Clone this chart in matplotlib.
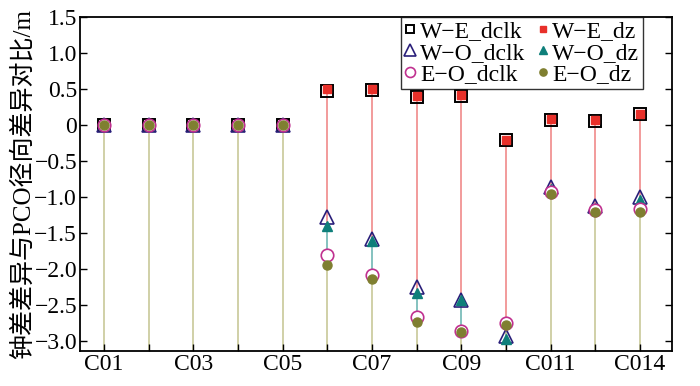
import numpy as np
import matplotlib
matplotlib.use("Agg")
import matplotlib.pyplot as plt

plt.rcParams['font.family'] = ['Liberation Serif', 'Noto Sans CJK SC']

# satellites (13 positions, labels every other)
pos = np.arange(1, 14)
tick_pos = [1, 3, 5, 7, 9, 11, 13]
tick_labels = ["C01", "C03", "C05", "C07", "C09", "C011", "C014"]

we_dclk = [0, 0, 0, 0, 0, 0.48, 0.49, 0.39, 0.41, -0.21, 0.07, 0.06, 0.15]
we_dz   = [0, 0, 0, 0, 0, 0.50, 0.50, 0.40, 0.42, -0.20, 0.08, 0.07, 0.16]
wo_dclk = [0, 0, 0, 0, 0, -1.28, -1.58, -2.25, -2.42, -2.93, -0.86, -1.12, -1.00]
wo_dz   = [0, 0, 0, 0, 0, -1.40, -1.60, -2.33, -2.43, -2.96, -0.88, -1.15, -1.04]
eo_dclk = [0, 0, 0, 0, 0, -1.80, -2.08, -2.66, -2.85, -2.75, -0.93, -1.17, -1.16]
eo_dz   = [0, 0, 0, 0, 0, -1.94, -2.13, -2.73, -2.87, -2.77, -0.96, -1.21, -1.20]

base = -3.3

fig = plt.figure(figsize=(7, 3.86), dpi=100)
ax = fig.add_axes([0.114, 0.091, 0.846, 0.865])

# stems: each colour runs down to the next series' marker
ax.vlines(pos, wo_dz, we_dz, color="#f08a8a", lw=1.2, zorder=1)
ax.vlines(pos, eo_dz, wo_dz, color="#6fb8b4", lw=1.2, zorder=1)
ax.vlines(pos, base, eo_dz, color="#c8c898", lw=1.2, zorder=1)

h1, = ax.plot(pos, we_dclk, 's', ms=8, mfc='none', mec='black', mew=1.4, ls='none', label="W−E_dclk", zorder=3)
h2, = ax.plot(pos, we_dz, 's', ms=6, color="#e8302a", ls='none', label="W−E_dz", zorder=4)
h3, = ax.plot(pos, wo_dclk, '^', ms=10, mfc='none', mec="#2a1f7a", mew=1.2, ls='none', label="W−O_dclk", zorder=5)
h4, = ax.plot(pos, wo_dz, '^', ms=7, color="#0e7f7a", ls='none', label="W−O_dz", zorder=6)
h5, = ax.plot(pos, eo_dclk, 'o', ms=9, mfc='white', mec="#c0308f", mew=1.2, ls='none', label="E−O_dclk", zorder=7)
h6, = ax.plot(pos, eo_dz, 'o', ms=6.5, color="#7f7f30", ls='none', label="E−O_dz", zorder=8)

ax.set_xlim(0.46, 13.72)
ax.set_ylim(-3.13, 1.5)
ax.set_xticks(tick_pos)
ax.set_xticklabels(tick_labels)
ax.set_xticks(pos, minor=True)
ax.set_yticks(np.arange(-3.0, 1.51, 0.5))
ax.set_yticklabels(["−3.0", "−2.5", "−2.0", "−1.5", "−1.0", "−0.5", "0", "0.5", "1.0", "1.5"])
ax.tick_params(axis='both', which='both', direction='in', labelsize=17, right=True, top=False, pad=2)
ax.tick_params(axis='both', which='major', length=5, width=1)
ax.tick_params(axis='x', which='minor', length=5, width=1)
for s in ax.spines.values():
    s.set_linewidth(1.3)

ax.set_ylabel("钟差差异与PCO径向差异对比/m", fontsize=18, labelpad=0)

leg_handles = [h1, h3, h5, h2, h4, h6]
leg = ax.legend(handles=leg_handles, ncol=2, loc='upper right',
                bbox_to_anchor=(0.951, 1.0), fontsize=17, frameon=True, fancybox=False,
                edgecolor='black', handlelength=0.5, handletextpad=0.15,
                columnspacing=0.5, labelspacing=0.0, borderpad=0.15, borderaxespad=0.0,
                markerscale=0.8)
leg.get_frame().set_linewidth(1.0)

fig.savefig("out.png", dpi=100)
